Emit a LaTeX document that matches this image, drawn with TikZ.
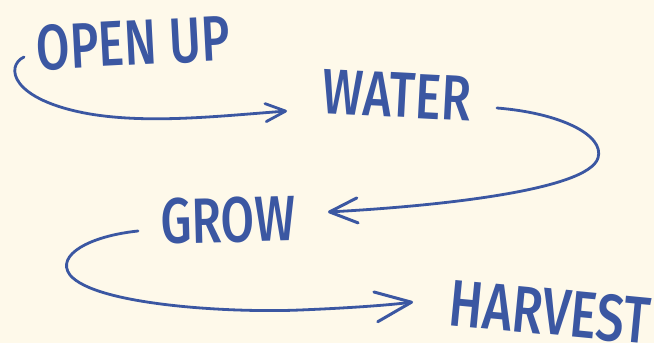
\documentclass[tikz,border=0pt]{standalone}
\usepackage{fontspec}
\setmainfont{Fira Sans}[UprightFont=* Medium]
\usetikzlibrary{arrows.meta}
\definecolor{bg}{HTML}{FEF9EA}
\definecolor{ink}{HTML}{3B57A2}
\tikzset{
  word/.style={text=ink, inner sep=0pt, font=\fontsize{64}{64}\selectfont},
  flow/.style={draw=ink, line width=2.8pt, line cap=round},
}
\newcommand{\cond}[1]{\scalebox{0.76}[1]{#1}}
\begin{document}
\begin{tikzpicture}[x=1pt,y=-1pt]
\fill[bg] (0,0) rectangle (654,343);
\useasboundingbox (0,0) rectangle (654,343);
\node[word, rotate=3] (open) at (133,43) {\cond{OPEN UP}};
\node[word, rotate=-3] (water) at (397,95) {\cond{WATER}};
\node[word, rotate=1.5] (grow) at (228,220) {\cond{GROW}};
\node[word, rotate=-5.5] (harv) at (550,312) {\cond{\fontsize{66}{66}\selectfont HARVEST}};
\coordinate (a1s) at (24,57);
\coordinate (a1e) at (287,111);
\coordinate (a2s) at (497,108);
\coordinate (a2e) at (328,212);
\coordinate (a3s) at (138,231);
\coordinate (a3e) at (413,302);
\draw[flow, -{Straight Barb[length=20pt,width=18pt,line width=2.8pt,round]}]
  (a1s) .. controls (5,66) and (10,100) .. (90,114)
        .. controls (150,124) and (220,116) .. (a1e);
\draw[flow, -{Straight Barb[length=28pt,width=25pt,line width=3pt,round]}]
  (a2s) .. controls (560,113) and (605,135) .. (598,158)
        .. controls (588,190) and (440,206) .. (a2e);
\draw[flow, -{Straight Barb[length=36pt,width=30pt,line width=3pt,round]}]
  (a3s) .. controls (90,236) and (55,255) .. (70,275)
        .. controls (95,305) and (230,313) .. (300,310)
        .. controls (350,308) and (390,305) .. (a3e);
\end{tikzpicture}
\end{document}
